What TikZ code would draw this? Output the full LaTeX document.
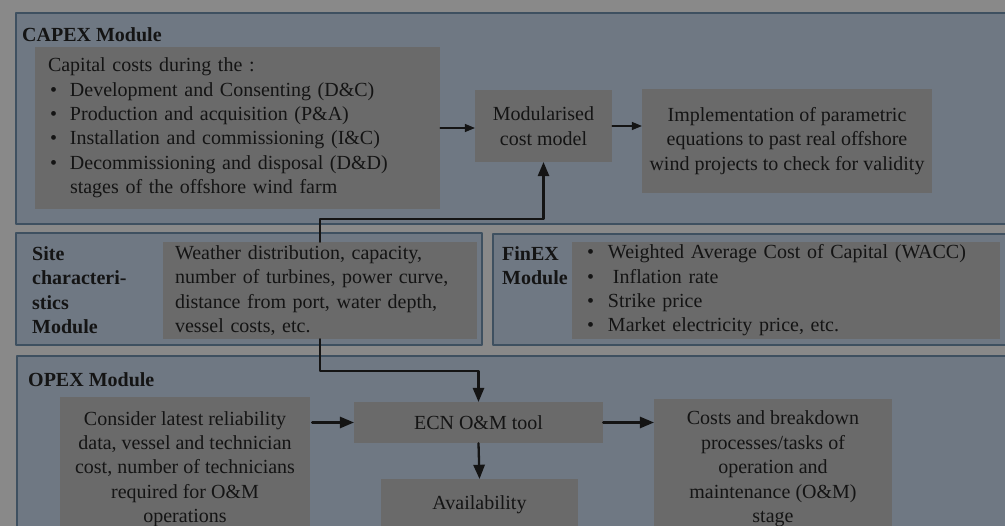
\documentclass[tikz,border=0pt]{standalone}
\usepackage{fontspec}
\setmainfont{Liberation Serif}
\usetikzlibrary{arrows}

\definecolor{pagegray}{HTML}{898989}
\definecolor{modfill}{HTML}{6F7883}
\definecolor{modline}{HTML}{3E5060}
\definecolor{boxfill}{HTML}{6A6A6A}
\definecolor{inkcol}{HTML}{141414}

\newcommand{\bitem}[1]{\makebox[22pt][l]{\hspace{2pt}•}#1}

\begin{document}
\fontsize{20}{24.4}\selectfont
\begin{tikzpicture}[line cap=round,line join=round,>=triangle 45,x=1pt,y=-1pt,
	modframe/.style={draw=modline,line width=2pt,fill=modfill},
	gbox/.style={fill=boxfill,inner sep=0pt,align=center,text=inkcol},
	mlabel/.style={font=\bfseries,align=left,text=inkcol,inner sep=0pt,anchor=west},
	conn/.style={->,line width=2.3pt,draw=inkcol},
	thinconn/.style={->,line width=1.3pt,draw=inkcol}]
			\useasboundingbox (0,0) rectangle (1005,526);
			\clip (0,0) rectangle (1005,526);
			\fill [pagegray] (0,0) rectangle (1005,526);
			% module frames
			\draw [modframe] (16,13) rectangle (1015,224);
			\draw [modframe] (16,233) rectangle (482,345);
			\draw [modframe] (493,234) rectangle (1015,345);
			\draw [modframe] (17,356) rectangle (1015,545);
			\node [mlabel] (capexlbl) at (22,35) {CAPEX Module};
			\node [mlabel] (sitelbl) at (32,290) {Site\\characteri-\\stics\\Module};
			\node [mlabel] (finexlbl) at (502,265.5) {FinEX\\Module};
			\node [mlabel] (opexlbl) at (28,380) {OPEX Module};
			% CAPEX
			\node [gbox,align=left,inner xsep=13pt,text width=379pt,minimum height=162pt] (capbox) at (237.5,128)
				{Capital costs during the :\\
				\bitem{Development and Consenting (D\&C)}\\
				\bitem{Production and acquisition (P\&A)}\\
				\bitem{Installation and commissioning (I\&C)}\\
				\bitem{Decommissioning and disposal (D\&D)}\\
				\hspace*{22pt}stages of the offshore wind farm};
			\node [gbox,minimum width=137pt,minimum height=72pt] (modbox) at (543.5,126) {Modularised\\cost model};
			\node [gbox,minimum width=290pt,minimum height=104pt] (implbox) at (787,141)
				{Implementation of parametric\\equations to past real offshore\\wind projects to check for validity};
			% site and FinEX
			\node [gbox,align=left,inner xsep=12pt,text width=290pt,minimum height=97pt] (sitebox) at (320,290.5)
				{Weather distribution, capacity,\\number of turbines, power curve,\\distance from port, water depth,\\vessel costs, etc.};
			\node [gbox,align=left,inner xsep=15pt,text width=398pt,minimum height=97pt] (finbox) at (786,290.5)
				{\makebox[21pt][l]{•}Weighted Average Cost of Capital (WACC)\\
				\makebox[21pt][l]{•}\hspace{5pt}Inflation rate\\
				\makebox[21pt][l]{•}Strike price\\
				\makebox[21pt][l]{•}Market electricity price, etc.};
			% OPEX
			\node [gbox,minimum width=250pt,minimum height=144pt] (considerbox) at (185,469)
				{Consider latest reliability\\data, vessel and technician\\cost, number of technicians\\required for O\&M\\operations};
			\node [gbox,minimum width=249pt,minimum height=41pt] (ecnbox) at (478.5,422.5) {ECN O\&M tool};
			\node [gbox,minimum width=197pt,minimum height=52pt] (availbox) at (479.5,505) {Availability};
			\node [gbox,minimum width=238pt,minimum height=140pt] (costbox) at (773,469)
				{Costs and breakdown\\processes/tasks of\\operation and\\maintenance (O\&M)\\stage};
			% connectors
			\draw [thinconn] (capbox.east) -- (capbox.east -| modbox.west);
			\draw [thinconn] (modbox.east) -- (modbox.east -| implbox.west);
			\draw [conn] (sitebox.north) -- ++(0,-23) -| (modbox.south);
			\draw [conn] (sitebox.south) -- ++(0,32) -| (ecnbox.north);
			\draw [conn] (ecnbox.west -| considerbox.east) ++(2,0) -- (ecnbox.west);
			\draw [conn] (ecnbox.south) -- (availbox.north);
			\draw [conn] (ecnbox.east) -- (ecnbox.east -| costbox.west);
		\end{tikzpicture}
\end{document}
